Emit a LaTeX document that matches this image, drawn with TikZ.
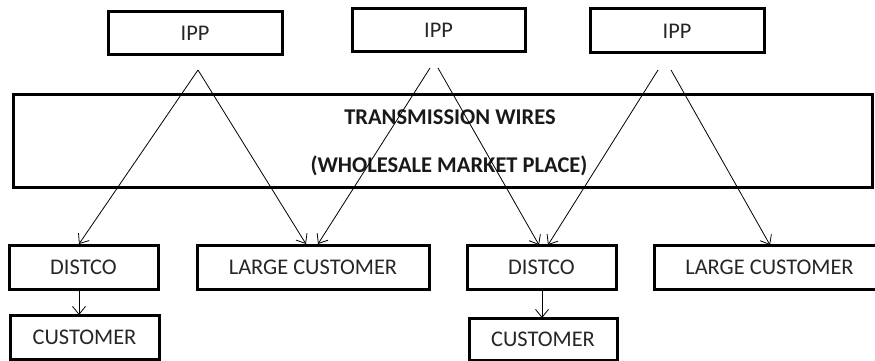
\documentclass[tikz,border=0pt]{standalone}
\usepackage{fontspec}
\setmainfont{Carlito}
\usetikzlibrary{arrows.meta}
\begin{document}
\begin{tikzpicture}[x=1pt,y=-1pt,
  box/.style={draw=black,line width=3pt,rectangle,inner sep=0pt,
    font=\fontsize{22.4}{26}\selectfont,text=black!85},
  lbl/.style={inner sep=0pt,font=\fontsize{22.5}{26}\selectfont\bfseries,text=black!90},
  arr/.style={line width=0.8pt,-{Straight Barb[length=8pt,width=13pt,line width=0.8pt]}}]
\useasboundingbox (0,0) rectangle (875,361);
\clip (0,0) rectangle (875,361);
% top boxes
\node[box,minimum width=174pt,minimum height=43pt] (ipp1) at (195,33.5) {IPP};
\node[box,minimum width=173pt,minimum height=43pt] (ipp2) at (438.5,30.5) {IPP};
\node[box,minimum width=174pt,minimum height=44pt] (ipp3) at (677,31) {IPP};
% transmission
\node[box,minimum width=859pt,minimum height=93pt] (trans) at (442.5,140.5) {};
\node[lbl] (t1) at (450,117) {TRANSMISSION WIRES};
\node[lbl] (t2) at (449,166) {(WHOLESALE MARKET PLACE)};
% bottom boxes
\node[box,minimum width=149pt,minimum height=44pt] (d1) at (83.5,267) {DISTCO};
\node[box,minimum width=232pt,minimum height=44pt] (lc1) at (313,267) {LARGE CUSTOMER};
\node[box,minimum width=149pt,minimum height=44pt] (c1) at (84.5,337) {CUSTOMER};
\node[box,minimum width=149pt,minimum height=44pt] (d2) at (541.5,267) {DISTCO};
\node[box,minimum width=231pt,minimum height=44pt] (lc2) at (769.5,267) {LARGE CUSTOMER};
\node[box,minimum width=148pt,minimum height=42pt] (c2) at (543,339) {CUSTOMER};
% connector ends
\coordinate (s1) at (198,70);
\coordinate (s2a) at (430,68);
\coordinate (s2b) at (438,68);
\coordinate (s3a) at (658,70);
\coordinate (s3b) at (671,70);
\coordinate (e1) at (79,244);
\coordinate (e2) at (306,244);
\coordinate (e3) at (318,244);
\coordinate (e4) at (539,245);
\coordinate (e5) at (548,245);
\coordinate (e6) at (770,245);
\coordinate (d1b) at (79,289);
\coordinate (c1t) at (79,315);
\coordinate (d2b) at (542,289);
\coordinate (c2t) at (542,318);
\draw[arr] (s1) -- (e1);
\draw[arr] (s1) -- (e2);
\draw[arr] (s2a) -- (e3);
\draw[arr] (s2b) -- (e4);
\draw[arr] (s3a) -- (e5);
\draw[arr] (s3b) -- (e6);
\draw[arr] (d1b) -- (c1t);
\draw[arr] (d2b) -- (c2t);
\end{tikzpicture}
\end{document}
